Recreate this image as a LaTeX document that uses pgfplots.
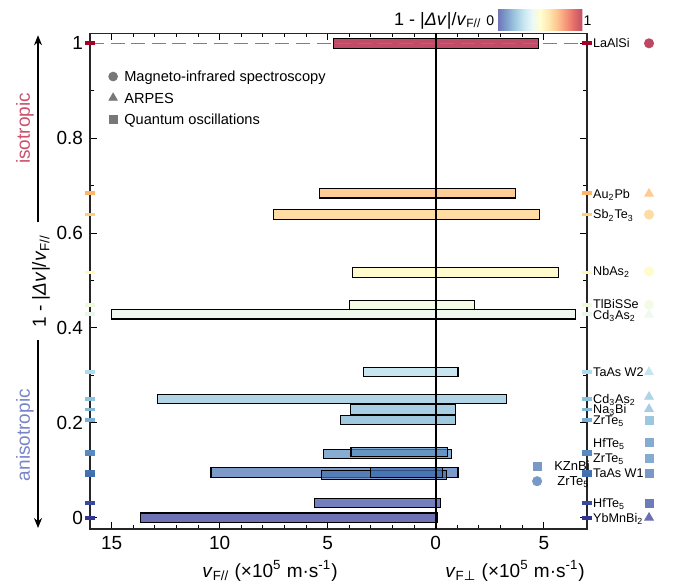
\documentclass[border=0pt]{standalone}
\usepackage{fontspec}
\setmainfont{Liberation Sans}
\newfontfamily\dejavu{DejaVu Sans}
\usepackage{pgfplots}
\pgfplotsset{compat=1.18}
\usetikzlibrary{arrows.meta,calc}
\newcommand\fs[1]{\fontsize{#1}{#1}\selectfont}

% RdYlBu (reversed) colours at the bar positions
\definecolor{c1000}{RGB}{165,0,38}
\definecolor{c684}{RGB}{253,182,105}
\definecolor{c639}{RGB}{254,205,126}
\definecolor{c517}{RGB}{255,250,183}
\definecolor{c448}{RGB}{239,249,221}
\definecolor{c429}{RGB}{233,246,231}
\definecolor{c307}{RGB}{175,219,234}
\definecolor{c250}{RGB}{144,195,221}
\definecolor{c228}{RGB}{131,185,216}
\definecolor{c206}{RGB}{119,176,210}
\definecolor{c137}{RGB}{86,138,191}
\definecolor{c094}{RGB}{68,113,178}
\definecolor{c031}{RGB}{55,74,159}
\definecolor{c000}{RGB}{49,54,149}
\definecolor{legray}{RGB}{120,120,120}
\definecolor{isocol}{RGB}{205,80,110}
\definecolor{anisocol}{RGB}{120,132,200}

\pgfplotsset{
  colormap={rdylbu}{rgb255(0)=(49,54,149) rgb255(1)=(69,117,180) rgb255(2)=(116,173,209)
    rgb255(3)=(171,217,233) rgb255(4)=(224,243,248) rgb255(5)=(255,255,191)
    rgb255(6)=(254,224,144) rgb255(7)=(253,174,97) rgb255(8)=(244,109,67)
    rgb255(9)=(215,48,39) rgb255(10)=(165,0,38)},
  colormap={rdylbufade}{rgb255(0)=(111,114,181) rgb255(1)=(125,158,203) rgb255(2)=(158,198,223)
    rgb255(3)=(196,228,240) rgb255(4)=(233,247,250) rgb255(5)=(255,255,210)
    rgb255(6)=(254,233,177) rgb255(7)=(254,198,144) rgb255(8)=(247,153,123)
    rgb255(9)=(227,110,104) rgb255(10)=(192,77,103)},
  hb/.style={xbar, bar width=0.02, bar shift=0pt, draw=black, line width=0.55pt,
    fill=#1, fill opacity=0.7},
}

\begin{document}
\begin{tikzpicture}
\begin{axis}[
  scale only axis,
  width=248.5pt, height=247.85pt,
  xmin=-16, xmax=7, ymin=-0.0238, ymax=1.0211,
  xtick={-15,-10,-5,0,5}, xticklabels={15,10,5,0,5},
  minor x tick num=4,
  ytick={0,0.2,0.4,0.6,0.8,1}, minor y tick num=1,
  tick align=inside,
  major tick length=3.5pt, minor tick length=2pt,
  tick style={line width=0.5pt, black},
  axis line style={line width=0.6pt, black!85},
  tick label style={font=\fs{9.5}},
  /pgf/number format/assume math mode=true,
  clip=false,
  colormap name=rdylbu,
  point meta min=0, point meta max=1,
  colorbar horizontal,
  colorbar style={
    at={($(parent axis.north west)+(203.65pt,20.5pt)$)}, anchor=north west,
    scale only axis, width=42.5pt, height=10.5pt,
    xtick=\empty, ytick=\empty,
    axis line style={draw=none},
    colormap name=rdylbufade,
  },
]
% ---- bars: (left = -v_F//, right = v_F_perp) at y = 1 - |dv|/v_F//
\addplot[hb=c1000] coordinates {(-4.74,1) (4.75,1)};         % LaAlSi
\addplot[hb=c684]  coordinates {(-5.39,0.684) (3.69,0.684)}; % Au2Pb
\addplot[hb=c639]  coordinates {(-7.50,0.639) (4.80,0.639)}; % Sb2Te3
\addplot[hb=c517]  coordinates {(-3.84,0.517) (5.68,0.517)}; % NbAs2
\addplot[hb=c448]  coordinates {(-4.00,0.448) (1.79,0.448)}; % TlBiSSe
\addplot[hb=c429]  coordinates {(-15.0,0.429) (6.45,0.429)}; % Cd3As2
\addplot[hb=c307]  coordinates {(-3.35,0.307) (1.03,0.307)}; % TaAs W2
\addplot[hb=c250]  coordinates {(-12.89,0.250) (3.26,0.250)}; % Cd3As2
\addplot[hb=c228]  coordinates {(-3.94,0.228) (0.91,0.228)}; % Na3Bi
\addplot[hb=c206]  coordinates {(-4.40,0.206) (0.91,0.206)}; % ZrTe5
\addplot[hb=c137]  coordinates {(-5.19,0.134) (0.71,0.134)}; % ZrTe5
\addplot[hb=c137]  coordinates {(-3.92,0.1385) (0.56,0.1385)}; % HfTe5
\addplot[hb=c094]  coordinates {(-10.40,0.0957) (1.03,0.0957)}; % TaAs W1
\addplot[hb=c094]  coordinates {(-5.29,0.090) (0.49,0.090)}; % ZrTe5
\addplot[hb=c094]  coordinates {(-3.01,0.0957) (0.32,0.0957)}; % KZnBi
\addplot[hb=c031]  coordinates {(-5.62,0.031) (0.20,0.031)}; % HfTe5
\addplot[hb=c000]  coordinates {(-13.67,0) (0.08,0)};        % YbMnBi2

% reference lines
\addplot[gray, line width=0.6pt, dash pattern=on 7pt off 3.3pt] coordinates {(-16,1) (7,1)};
\addplot[black, line width=0.8pt] coordinates {(0,-0.0238) (0,1.0211)};

% colour dashes on both frames
\addplot[scatter, only marks, mark=-, mark size=2.4pt, point meta=y,
  scatter/use mapped color={draw=mapped color}, mark options={line width=1.9pt}]
  coordinates {(-16,1) (-16,0.684) (-16,0.639) (-16,0.517) (-16,0.448) (-16,0.429)
  (-16,0.307) (-16,0.250) (-16,0.228) (-16,0.206) (-16,0.134) (-16,0.1385)
  (-16,0.0957) (-16,0.090) (-16,0.031) (-16,0)};
\addplot[scatter, only marks, mark=-, mark size=2.4pt, point meta=y,
  scatter/use mapped color={draw=mapped color}, mark options={line width=1.9pt}]
  coordinates {(7,1) (7,0.684) (7,0.639) (7,0.517) (7,0.448) (7,0.429)
  (7,0.307) (7,0.250) (7,0.228) (7,0.206) (7,0.134) (7,0.1385)
  (7,0.0957) (7,0.090) (7,0.031) (7,0)};

% method markers at the right
\addplot[scatter, only marks, mark=*, mark size=2.3pt, point meta=explicit,
  scatter/use mapped color={draw=mapped color!72!white, fill=mapped color!72!white}]
  coordinates {(9.87,1) [1] (9.87,0.639) [0.639] (9.87,0.519) [0.517] (9.87,0.449) [0.448]
  (4.69,0.077) [0.094]};
\addplot[scatter, only marks, mark=triangle*, mark size=2.5pt, point meta=explicit,
  scatter/use mapped color={draw=mapped color!72!white, fill=mapped color!72!white}]
  coordinates {(9.87,0.683) [0.684] (9.87,0.428) [0.429] (9.87,0.307) [0.307]
  (9.87,0.255) [0.25] (9.87,0.229) [0.228] (9.87,0) [0]};
\addplot[scatter, only marks, mark=square*, mark size=2pt, point meta=explicit,
  scatter/use mapped color={draw=mapped color!72!white, fill=mapped color!72!white}]
  coordinates {(9.87,0.2045) [0.206] (9.87,0.158) [0.137] (9.87,0.126) [0.137]
  (9.87,0.094) [0.094] (9.87,0.031) [0.031] (4.69,0.109) [0.094]};

% legend of methods
\addplot[only marks, mark=*, mark size=2.2pt, legray] coordinates {(-14.93,0.930)};
\addplot[only marks, mark=triangle*, mark size=2.4pt, legray] coordinates {(-14.93,0.885)};
\addplot[only marks, mark=square*, mark size=2pt, legray] coordinates {(-14.93,0.840)};
\begin{scope}[every node/.style={inner sep=0pt, anchor=base west, font=\fs{7.3}, yshift=-2.6pt}]
\node at (axis cs:-14.43,0.930) {Magneto-infrared spectroscopy};
\node at (axis cs:-14.43,0.885) {ARPES};
\node at (axis cs:-14.43,0.840) {Quantum oscillations};
\end{scope}

% material labels
\begin{scope}[every node/.style={inner sep=0pt, anchor=base west, font=\fs{6.3}, xshift=2.9pt, yshift=-2.2pt}]
\node at (axis cs:7,1) {LaAlSi};
\node at (axis cs:7,0.683) {Au\textsubscript{2}Pb};
\node at (axis cs:7,0.639) {Sb\textsubscript{2}Te\textsubscript{3}};
\node at (axis cs:7,0.519) {NbAs\textsubscript{2}};
\node at (axis cs:7,0.451) {TlBiSSe};
\node at (axis cs:7,0.428) {Cd\textsubscript{3}As\textsubscript{2}};
\node at (axis cs:7,0.307) {TaAs W2};
\node at (axis cs:7,0.251) {Cd\textsubscript{3}As\textsubscript{2}};
\node at (axis cs:7,0.228) {Na\textsubscript{3}Bi};
\node at (axis cs:7,0.205) {ZrTe\textsubscript{5}};
\node at (axis cs:7,0.157) {HfTe\textsubscript{5}};
\node at (axis cs:7,0.1265) {ZrTe\textsubscript{5}};
\node at (axis cs:7,0.094) {TaAs W1};
\node at (axis cs:7,0.031) {HfTe\textsubscript{5}};
\node at (axis cs:7,0) {YbMnBi\textsubscript{2}};
\node[xshift=0pt, font=\fs{6.5}] at (axis cs:5.2,0.109) {KZnBi};
\node[xshift=0pt, font=\fs{6.5}] at (axis cs:5.34,0.077) {ZrTe\textsubscript{5}};
\end{scope}

% colour bar texts
\node[anchor=base east, inner sep=0pt, font=\fs{9}] at (axis cs:2.13,1.0386)
  {1 - |\textit{Δv}|/\textit{v}\textsubscript{F//}};
\node[anchor=base east, inner sep=0pt, font=\fs{7}] at (axis cs:2.72,1.0386) {0};
\node[anchor=base west, inner sep=0pt, font=\fs{7}] at (axis cs:6.83,1.0386) {1};

% axis titles
\node[font=\fs{9.5}] at (axis cs:-7.67,-0.112)
  {\textit{v}\textsubscript{F//} (×10\textsuperscript{5} m·s\textsuperscript{-1})};
\node[font=\fs{9.5}] at (axis cs:3.67,-0.112)
  {\textit{v}\textsubscript{F{\dejavu ⊥}} (×10\textsuperscript{5} m·s\textsuperscript{-1})};
\node[rotate=90, font=\fs{9.5}] at (rel axis cs:-0.0986,0.5)
  {1 - |\textit{Δv}|/\textit{v}\textsubscript{F//}};
\node[rotate=90, font=\fs{9.5}, text=isocol] at (rel axis cs:-0.1308,0.808) {isotropic};
\node[rotate=90, font=\fs{9.5}, text=anisocol] at (rel axis cs:-0.1308,0.1895) {anisotropic};
\draw[line width=0.6pt, -{Stealth[length=5pt,width=4pt]}] (rel axis cs:-0.1046,0.619) -- (rel axis cs:-0.1046,0.996);
\draw[line width=0.6pt, -{Stealth[length=5pt,width=4pt]}] (rel axis cs:-0.1046,0.381) -- (rel axis cs:-0.1046,0.002);

\coordinate (bbsw) at (rel axis cs:-0.1811,-0.1089);
\coordinate (bbne) at (rel axis cs:1.1730,1.0672);
\end{axis}
\pgfresetboundingbox
\useasboundingbox (bbsw) rectangle (bbne);
\end{tikzpicture}
\end{document}
